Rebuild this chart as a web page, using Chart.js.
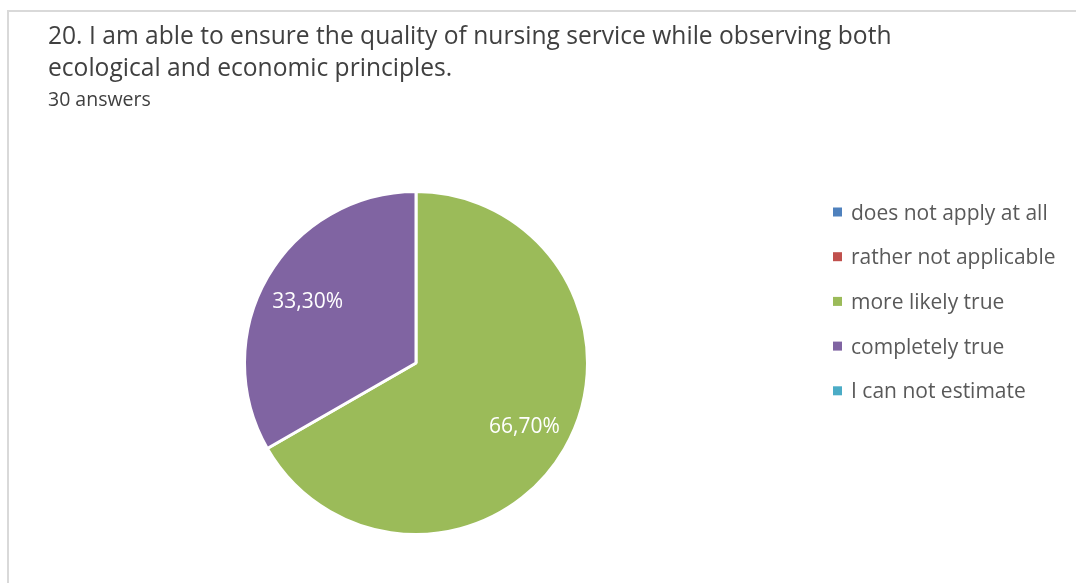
<!DOCTYPE html>
<html>
<head>
<meta charset="utf-8">
<script src="https://cdn.jsdelivr.net/npm/chart.js@4.4.1/dist/chart.umd.min.js"></script>
<style>
  html, body { margin: 0; padding: 0; background: #fff; }
  #wrap { width: 1076px; height: 583px; position: relative; }
</style>
</head>
<body>
<div id="wrap"><canvas id="pie" width="1076" height="583"></canvas></div>
<script>
const titleLines = [
  "20. I am able to ensure the quality of nursing service while observing both",
  "ecological and economic principles."
]
const subtitleText = "30 answers"
const categories = [
  "does not apply at all",
  "rather not applicable",
  "more likely true",
  "completely true",
  "I can not estimate"
]
const shares = [0, 0, 66.7, 33.3, 0]
const colors = ["#4f81bd", "#c0504d", "#9bbb59", "#8064a2", "#4bacc6"]

const FONT = "'Open Sans', 'Noto Sans', sans-serif"

// frame, headings, legend and value labels drawn on top of the pie
const decorations = {
  id: "decorations",
  afterDraw(chart) {
    const ctx = chart.ctx
    ctx.save()

    // thin grey frame (top and left edges)
    ctx.strokeStyle = "#d9d9d9"
    ctx.lineWidth = 2
    ctx.beginPath()
    ctx.moveTo(8, 583)
    ctx.lineTo(8, 11)
    ctx.lineTo(1076, 11)
    ctx.stroke()

    ctx.fillStyle = "#404040"
    ctx.textBaseline = "alphabetic"
    ctx.textAlign = "left"
    ctx.font = "24.6px " + FONT
    ctx.fillText(titleLines[0], 48, 44)
    ctx.fillText(titleLines[1], 48, 76)
    ctx.font = "19.5px " + FONT
    ctx.fillText(subtitleText, 48, 106)

    // legend
    ctx.font = "21px " + FONT
    categories.forEach((c, i) => {
      const y = 212 + i * 44.7
      ctx.fillStyle = colors[i]
      ctx.fillRect(833, y - 4.5, 9, 9)
      ctx.fillStyle = "#595959"
      ctx.fillText(c, 851, y + 7.5)
    })

    // percentage labels inside slices
    const meta = chart.getDatasetMeta(0)
    ctx.fillStyle = "#ffffff"
    ctx.font = "21px " + FONT
    ctx.textAlign = "center"
    meta.data.forEach((arc, i) => {
      if (!shares[i]) return
      const p = arc.getProps(["x", "y", "startAngle", "endAngle", "outerRadius"], true)
      const mid = (p.startAngle + p.endAngle) / 2
      const r = p.outerRadius * 0.73
      const label = shares[i].toFixed(2).replace(".", ",") + "%"
      ctx.fillText(label, p.x + Math.cos(mid) * r, p.y + Math.sin(mid) * r + 7.5)
    })
    ctx.restore()
  }
}

new Chart(document.getElementById("pie"), {
  type: "pie",
  data: {
    labels: categories,
    datasets: [{
      data: shares,
      backgroundColor: colors,
      borderColor: "#ffffff",
      borderWidth: 3
    }]
  },
  options: {
    responsive: false,
    animation: false,
    layout: { padding: { left: 243, right: 487, top: 190, bottom: 47 } },
    plugins: {
      legend: { display: false },
      tooltip: { enabled: false }
    }
  },
  plugins: [decorations]
})
</script>
</body>
</html>
